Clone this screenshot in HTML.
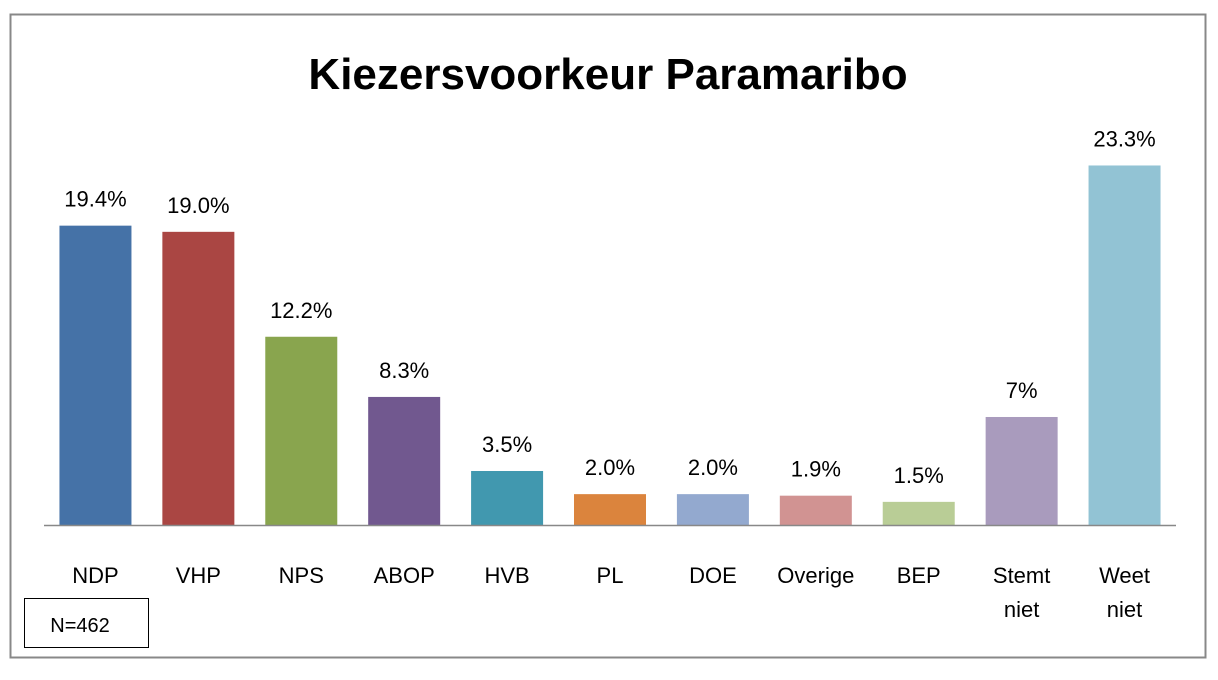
<!DOCTYPE html>
<html><head><meta charset="utf-8"><style>
body{margin:0;background:#fff;width:1218px;height:675px;overflow:hidden;font-family:"Liberation Sans",sans-serif}
svg text{font-family:"Liberation Sans","DejaVu Sans",sans-serif}
</style></head><body>
<svg id="chart" width="1218" height="675" xmlns="http://www.w3.org/2000/svg">
<rect x="10.5" y="14.5" width="1195" height="643" fill="#fff" stroke="#888" stroke-width="2"/>
<text x="608" y="89" font-size="44" font-weight="bold" text-anchor="middle" fill="#000">Kiezersvoorkeur Paramaribo</text>
<g id="bars"></g>
<line x1="44" y1="525.5" x2="1176" y2="525.5" stroke="#888" stroke-width="1.5"/>
<rect x="24.5" y="598.5" width="124" height="49" fill="#fff" stroke="#000" stroke-width="1"/>
<text x="80" y="632" font-size="20" text-anchor="middle">N=462</text>
</svg>
<script>
const categories=[["NDP"],["VHP"],["NPS"],["ABOP"],["HVB"],["PL"],["DOE"],["Overige"],["BEP"],["Stemt","niet"],["Weet","niet"]];
const values=[19.4,19.0,12.2,8.3,3.5,2.0,2.0,1.9,1.5,7.0,23.3];
const valueLabels=["19.4%","19.0%","12.2%","8.3%","3.5%","2.0%","2.0%","1.9%","1.5%","7%","23.3%"];
const colors=["#4572A7","#AA4643","#89A54E","#71588F","#4198AF","#DB843D","#93A9CF","#D19392","#B9CD96","#A99BBD","#92C3D4"];
const ns="http://www.w3.org/2000/svg";
const x0=44,x1=1176,base=525,pxPer=15.43;
const step=(x1-x0)/categories.length,bw=72;
const xs=i=>x0+step*(i+0.5);
const ys=v=>base-v*pxPer;
const g=document.getElementById('bars');
values.forEach((v,i)=>{
 const r=document.createElementNS(ns,'rect');
 
 
 r.setAttribute('x',xs(i)-bw/2);r.setAttribute('y',ys(v));
 r.setAttribute('width',bw);r.setAttribute('height',base-ys(v));
 r.setAttribute('fill',colors[i]);g.appendChild(r);
 const t=document.createElementNS(ns,'text');
 
 
 t.setAttribute('x',xs(i));t.setAttribute('y',ys(v)-19);
 t.setAttribute('font-size','22');t.setAttribute('text-anchor','middle');
 t.textContent=valueLabels[i];g.appendChild(t);
 categories[i].forEach((line,j)=>{
  const c=document.createElementNS(ns,'text');
  
  
  c.setAttribute('x',xs(i));c.setAttribute('y',583+j*34);
  c.setAttribute('font-size','22');c.setAttribute('text-anchor','middle');
  c.textContent=line;g.appendChild(c);
 });
});
</script>
</body></html>
